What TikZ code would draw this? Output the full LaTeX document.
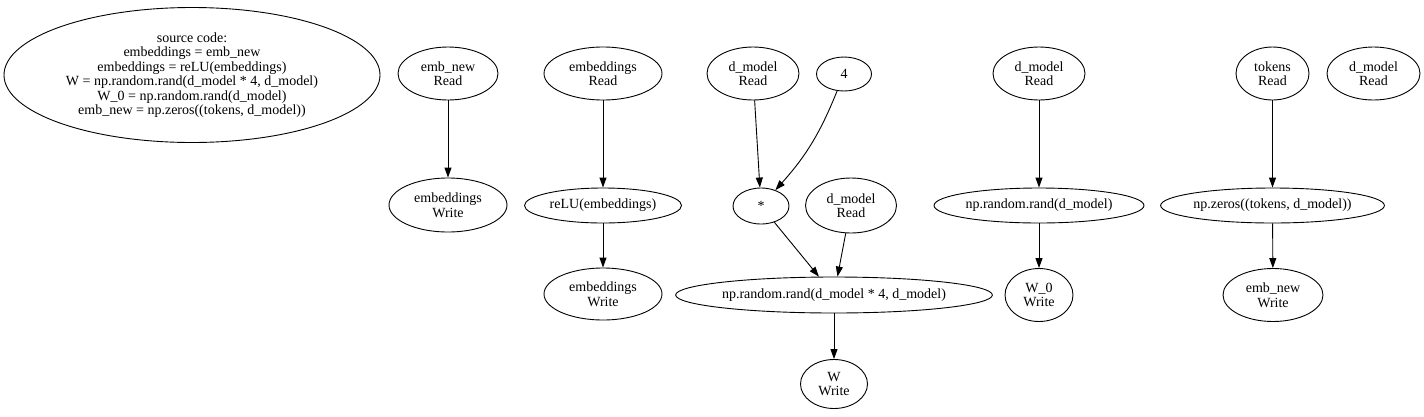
\documentclass[tikz,border=0pt]{standalone}
\usepackage{fontspec}
\setmainfont{Liberation Serif}
\usetikzlibrary{shapes.geometric,arrows.meta}

\begin{document}
\begin{tikzpicture}
                \tikzset{x={(1pt, 0pt)}, y={(0pt, -1pt)}}
                \tikzset{op/.style={draw, ellipse, inner sep=0pt, align=center, line width=0.9pt,
                                    font=\fontsize{14}{14.5}\selectfont},
                         dep/.style={-{Triangle[length=10pt, width=7pt]}, line width=0.9pt}}
                \useasboundingbox (0, 0) rectangle (1424, 416);
                % source
                \node[op, minimum width=376pt, minimum height=135pt] (src) at (192, 75)
                    {source code:\\embeddings = emb\_new\\embeddings = reLU(embeddings)\\
                     W = np.random.rand(d\_model * 4, d\_model)\\W\_0 = np.random.rand(d\_model)\\
                     emb\_new = np.zeros((tokens, d\_model))};
                % embeddings = emb_new
                \node[op, minimum width=100pt, minimum height=53pt] (rd_emb_new) at ( 448,  73.5) {emb\_new\\Read};
                \node[op, minimum width=118pt, minimum height=54pt] (wr_emb_a)   at ( 448, 205)   {embeddings\\Write};
                % embeddings = reLU(embeddings)
                \node[op, minimum width=118pt, minimum height=53pt] (rd_emb)     at ( 603,  73.5) {embeddings\\Read};
                \node[op, minimum width=157pt, minimum height=35pt] (relu)       at ( 603, 205.5) {reLU(embeddings)};
                \node[op, minimum width=118pt, minimum height=52pt] (wr_emb_b)   at ( 603, 294)   {embeddings\\Write};
                % W
                \node[op, minimum width=92pt,  minimum height=53pt] (rd_dm_a)    at ( 753,  73.5) {d\_model\\Read};
                \node[op, minimum width=55pt,  minimum height=34pt] (four)       at ( 844,  74)   {4};
                \node[op, minimum width=56pt,  minimum height=36pt] (mul)        at ( 761, 206)   {*};
                \node[op, minimum width=91pt,  minimum height=55pt] (rd_dm_b)    at ( 851, 205.5) {d\_model\\Read};
                \node[op, minimum width=308pt, minimum height=36pt] (rand_w)     at ( 834, 295)   {np.random.rand(d\_model * 4, d\_model)};
                \node[op, minimum width=67pt,  minimum height=49pt] (wr_w)       at ( 834, 384)   {W\\Write};
                % W_0
                \node[op, minimum width=92pt,  minimum height=53pt] (rd_dm_c)    at (1039,  73.5) {d\_model\\Read};
                \node[op, minimum width=210pt, minimum height=35pt] (rand_w0)    at (1039, 205.5) {np.random.rand(d\_model)};
                \node[op, minimum width=68pt,  minimum height=53pt] (wr_w0)      at (1039, 295)   {W\_0\\Write};
                % emb_new
                \node[op, minimum width=73pt,  minimum height=53pt] (rd_tokens)  at (1272.5, 73.5) {tokens\\Read};
                \node[op, minimum width=93pt,  minimum height=53pt] (rd_dm_d)    at (1373.5, 73.5) {d\_model\\Read};
                \node[op, minimum width=223pt, minimum height=35pt] (zeros)      at (1272.5, 205.5) {np.zeros((tokens, d\_model))};
                \node[op, minimum width=100pt, minimum height=53pt] (wr_emb_new) at (1273, 295)   {emb\_new\\Write};

                \draw[dep] (rd_emb_new) -- (wr_emb_a);
                \draw[dep] (rd_emb) -- (relu);
                \draw[dep] (relu) -- (wr_emb_b);
                \draw[dep] (rd_dm_a) -- (mul);
                \draw[dep] (four) to[bend left=10] (mul);
                \draw[dep] (mul) -- (rand_w);
                \draw[dep] (rd_dm_b) -- (rand_w);
                \draw[dep] (rand_w) -- (wr_w);
                \draw[dep] (rd_dm_c) -- (rand_w0);
                \draw[dep] (rand_w0) -- (wr_w0);
                \draw[dep] (rd_tokens) -- (zeros);
                \draw[dep] (zeros) -- (wr_emb_new);
            \end{tikzpicture}
\end{document}
